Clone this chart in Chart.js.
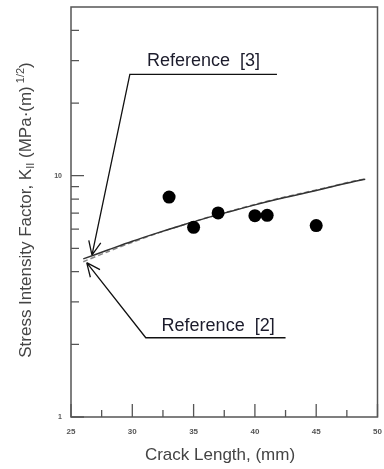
<!DOCTYPE html>
<html>
<head>
<meta charset="utf-8">
<script src="https://cdn.jsdelivr.net/npm/chart.js@4/dist/chart.umd.min.js"></script>
<style>
html,body{margin:0;padding:0;background:#fff;}
#wrap{width:384px;height:469px;position:relative;}
</style>
</head>
<body>
<div id="wrap"><canvas id="c" width="384" height="469"></canvas></div>
<script>
// ---- data ----
const measuredCrack = [33, 35, 37, 40, 41, 45];
const measuredK     = [8.15, 6.11, 7.01, 6.83, 6.85, 6.21];

const curveCrack = [26, 28, 30, 32, 34, 36, 38, 40, 42, 44, 46, 48, 49];
const ref3K      = [4.52, 4.92, 5.35, 5.78, 6.22, 6.67, 7.11, 7.57, 8.02, 8.45, 8.93, 9.44, 9.66];
const ref2K      = [4.40, 4.84, 5.30, 5.76, 6.22, 6.68, 7.13, 7.60, 8.06, 8.50, 8.96, 9.48, 9.70];

const xMajorTicks = [25, 30, 35, 40, 45, 50];
const xMinorTicks = [27.5, 32.5, 37.5, 42.5, 47.5];
const yMajorTicks = [1, 10];
const yMinorTicks = [2, 3, 4, 5, 6, 7, 8, 9, 20, 30, 40];

const xTitle = "Crack Length, (mm)";
const yTitleParts = [
  {t: "Stress Intensity Factor, K", k: "n"},
  {t: "II", k: "sub"},
  {t: " (MPa\u00b7(m)", k: "n"},
  {t: " 1/2", k: "sup"},
  {t: ")", k: "n"}
];

// annotation callouts (data coordinates)
const ref3Label = {text: "Reference  [3]", x: 35.8, y: 30.0,
  lineStart: 41.8, lineEnd: 29.8, lineY: 26.3, tipX: 26.71, tipY: 4.69};
const ref2Label = {text: "Reference  [2]", x: 37.0, y: 2.38,
  lineStart: 42.5, lineEnd: 31.1, lineY: 2.13, tipX: 26.28, tipY: 4.36};

const FONT = "'Liberation Sans', Arial, sans-serif";

const toXY = (xs, ys) => xs.map((x, i) => ({x: x, y: ys[i]}));

const decor = {
  id: 'decor',
  afterDraw(chart) {
    const ctx = chart.ctx, a = chart.chartArea;
    const xs = chart.scales.x, ys = chart.scales.y;
    ctx.save();
    // frame
    ctx.strokeStyle = '#555';
    ctx.lineWidth = 1.5;
    ctx.strokeRect(a.left, a.top, a.right - a.left, a.bottom - a.top);
    // inward ticks
    ctx.lineWidth = 1.3;
    ctx.beginPath();
    xMajorTicks.forEach(v => { const p = xs.getPixelForValue(v); ctx.moveTo(p, a.bottom); ctx.lineTo(p, a.bottom - 13); });
    xMinorTicks.forEach(v => { const p = xs.getPixelForValue(v); ctx.moveTo(p, a.bottom); ctx.lineTo(p, a.bottom - 7); });
    yMajorTicks.forEach(v => { const p = ys.getPixelForValue(v); ctx.moveTo(a.left, p); ctx.lineTo(a.left + 13, p); });
    yMinorTicks.forEach(v => { const p = ys.getPixelForValue(v); ctx.moveTo(a.left, p); ctx.lineTo(a.left + 8, p); });
    ctx.stroke();

    // callouts
    function callout(c) {
      const x1 = xs.getPixelForValue(c.lineStart), x2 = xs.getPixelForValue(c.lineEnd);
      const ly = ys.getPixelForValue(c.lineY);
      const tx = xs.getPixelForValue(c.tipX), ty = ys.getPixelForValue(c.tipY);
      ctx.strokeStyle = '#111';
      ctx.lineWidth = 1.3;
      ctx.beginPath();
      ctx.moveTo(x1, ly); ctx.lineTo(x2, ly); ctx.lineTo(tx, ty);
      // open arrowhead
      const ang = Math.atan2(ty - ly, tx - x2);
      const L = 15, spread = 0.42;
      ctx.moveTo(tx, ty); ctx.lineTo(tx - L * Math.cos(ang - spread), ty - L * Math.sin(ang - spread));
      ctx.moveTo(tx, ty); ctx.lineTo(tx - L * Math.cos(ang + spread), ty - L * Math.sin(ang + spread));
      ctx.stroke();
      ctx.fillStyle = '#1c1c2c';
      ctx.font = '18px ' + FONT;
      ctx.textAlign = 'center';
      ctx.textBaseline = 'middle';
      ctx.fillText(c.text, xs.getPixelForValue(c.x), ys.getPixelForValue(c.y));
    }
    callout(ref3Label);
    callout(ref2Label);

    // x title
    ctx.fillStyle = '#444';
    ctx.font = '17px ' + FONT;
    ctx.textAlign = 'center';
    ctx.textBaseline = 'middle';
    ctx.fillText(xTitle, 220, 455);

    // y title (rotated, with sub/superscript)
    const big = '17px ' + FONT, small = '11px ' + FONT;
    let total = 0;
    yTitleParts.forEach(p => { ctx.font = p.k === 'n' ? big : small; p.w = ctx.measureText(p.t).width; total += p.w; });
    ctx.translate(25, 210);
    ctx.rotate(-Math.PI / 2);
    ctx.textAlign = 'left';
    ctx.textBaseline = 'alphabetic';
    let cx = -total / 2;
    yTitleParts.forEach(p => {
      ctx.font = p.k === 'n' ? big : small;
      const dy = p.k === 'sub' ? 3 : (p.k === 'sup' ? -7 : 0);
      ctx.fillText(p.t, cx, 6 + dy);
      cx += p.w;
    });
    ctx.restore();
  }
};

new Chart(document.getElementById('c'), {
  type: 'scatter',
  data: {
    datasets: [
      {label: 'Measured', data: toXY(measuredCrack, measuredK), showLine: false,
       pointRadius: 6.5, pointHoverRadius: 6.5, backgroundColor: '#000', borderColor: '#000', borderWidth: 0},
      {label: 'Reference [3]', data: toXY(curveCrack, ref3K), showLine: true, pointRadius: 0,
       borderColor: '#333', borderWidth: 1.5, tension: 0.3, fill: false},
      {label: 'Reference [2]', data: toXY(curveCrack, ref2K), showLine: true, pointRadius: 0,
       borderColor: '#888', borderWidth: 1.5, borderDash: [5, 3], tension: 0.3, fill: false}
    ]
  },
  options: {
    responsive: false,
    animation: false,
    events: [],
    layout: {padding: {left: 0, right: 6, top: 7, bottom: 0}},
    plugins: {legend: {display: false}, tooltip: {enabled: false}},
    scales: {
      x: {
        type: 'linear', min: 25, max: 50,
        grid: {display: false, drawTicks: false},
        border: {display: false},
        ticks: {stepSize: 5, padding: 10, color: '#555', font: {family: FONT, size: 8, weight: 'bold'}, maxRotation: 0},
        afterFit: s => { s.height = 52; s.paddingLeft = 0; s.paddingRight = 0; }
      },
      y: {
        type: 'logarithmic', min: 1, max: 50,
        grid: {display: false, drawTicks: false},
        border: {display: false},
        ticks: {padding: 9, color: '#555', font: {family: FONT, size: 7, weight: 'bold'}, autoSkip: false,
          callback: v => (yMajorTicks.includes(v) ? String(v) : '')},
        afterFit: s => { s.width = 71; s.paddingTop = 0; s.paddingBottom = 0; }
      }
    }
  },
  plugins: [decor]
});
</script>
</body>
</html>
